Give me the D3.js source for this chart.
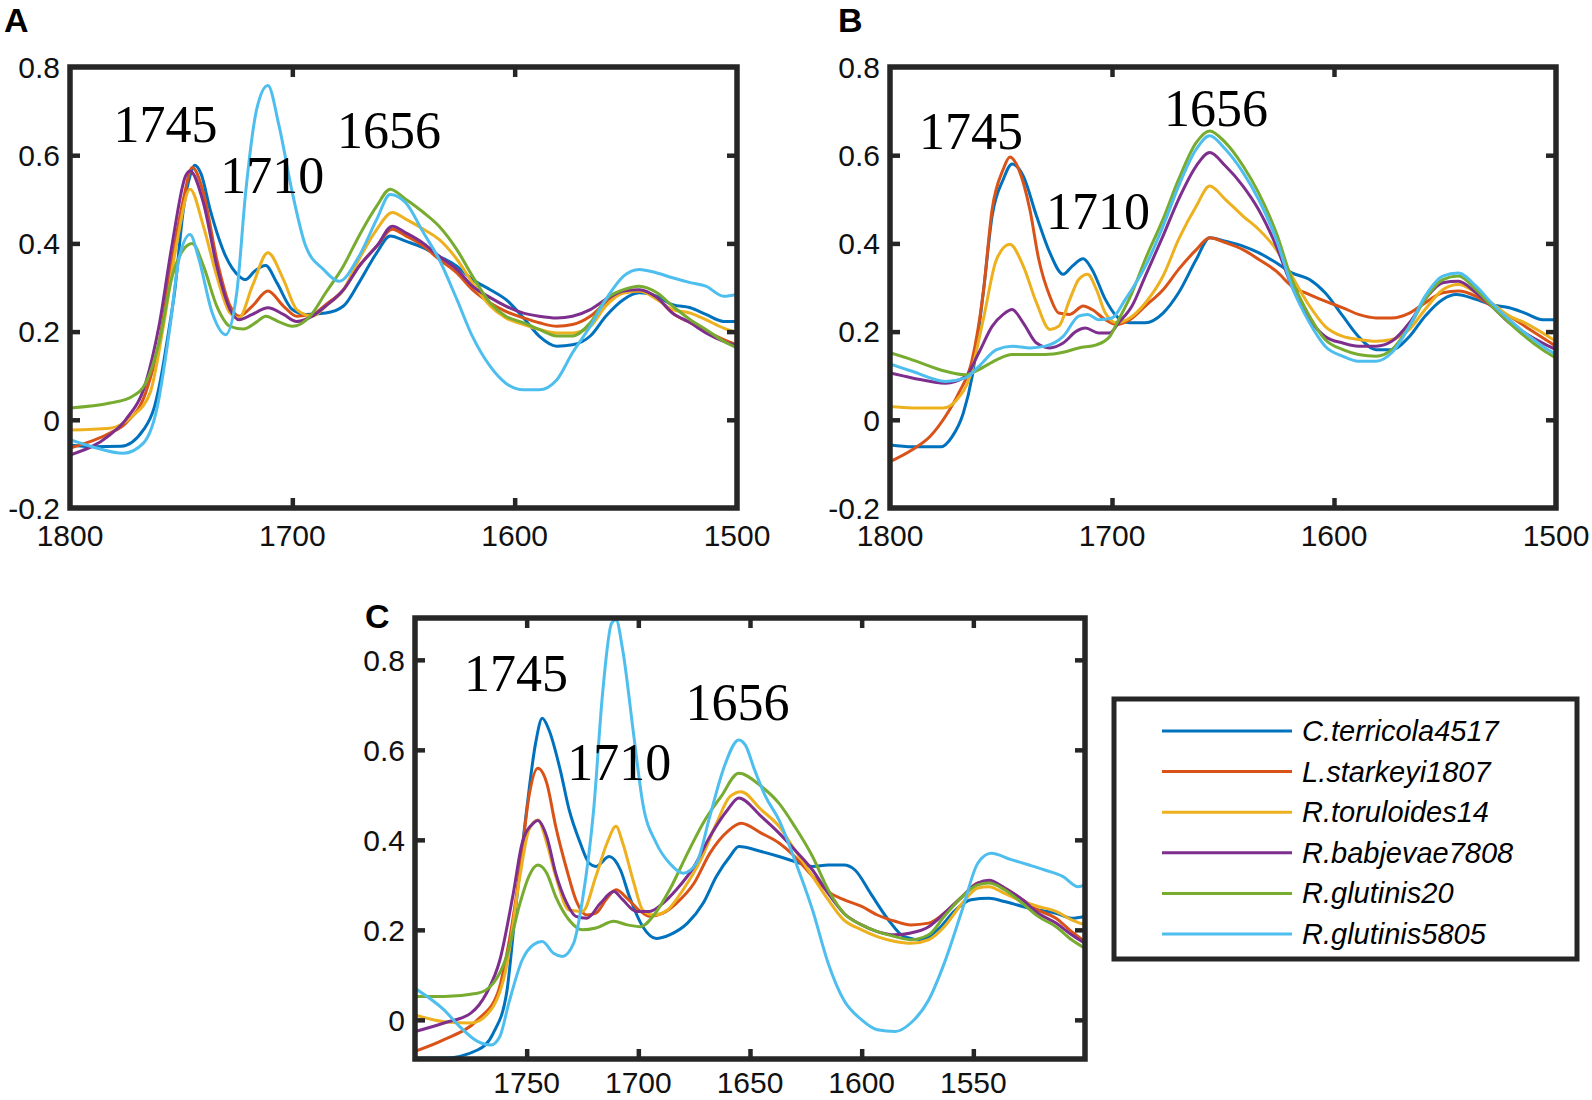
<!DOCTYPE html>
<html>
<head>
<meta charset="utf-8">
<script src="https://cdn.jsdelivr.net/npm/d3@7"></script>
<style>
  html, body { margin: 0; padding: 0; background: #fff; }
  svg { display: block; }
</style>
</head>
<body>
<div id="graphic"></div>
<script>
// ---- data (wavenumber, absorbance) ----
const seriesNames = ["C.terricola4517", "L.starkeyi1807", "R.toruloides14", "R.babjevae7808", "R.glutinis20", "R.glutinis5805"];
const seriesColors = ["#0072BD", "#D95319", "#EDB120", "#7E2F8E", "#77AC30", "#4DBEEE"];

// panel A
const terricolaA = [[1800,-0.057],[1790,-0.061],[1777,-0.06],[1767,-0.023],[1762,0.03],[1759,0.098],[1756,0.189],[1753,0.288],[1749,0.477],[1746,0.553],[1744,0.577],[1741,0.557],[1737,0.477],[1730,0.371],[1724,0.326],[1721,0.318],[1717,0.337],[1712,0.35],[1707,0.311],[1700,0.25],[1694,0.239],[1685,0.242],[1677,0.258],[1670,0.311],[1662,0.379],[1656,0.417],[1649,0.405],[1641,0.39],[1634,0.371],[1626,0.348],[1619,0.318],[1611,0.295],[1604,0.273],[1596,0.231],[1589,0.19],[1581,0.167],[1574,0.17],[1566,0.19],[1559,0.235],[1551,0.273],[1544,0.288],[1536,0.28],[1529,0.261],[1521,0.254],[1514,0.239],[1506,0.223],[1500,0.223]];
const starkeyiA = [[1800,-0.064],[1782,-0.03],[1775,-0.008],[1766,0.061],[1760,0.174],[1754,0.364],[1749,0.5],[1745,0.572],[1740,0.515],[1734,0.364],[1728,0.258],[1724,0.235],[1718,0.258],[1711,0.292],[1704,0.258],[1698,0.235],[1691,0.239],[1685,0.261],[1677,0.295],[1670,0.348],[1662,0.394],[1655,0.432],[1649,0.417],[1641,0.394],[1634,0.364],[1626,0.333],[1619,0.295],[1611,0.265],[1604,0.246],[1596,0.231],[1589,0.22],[1581,0.212],[1574,0.216],[1566,0.235],[1559,0.265],[1551,0.288],[1544,0.292],[1536,0.277],[1529,0.242],[1521,0.22],[1514,0.201],[1506,0.182],[1500,0.17]];
const toruloidesA = [[1800,-0.023],[1782,-0.019],[1772,0.008],[1764,0.061],[1758,0.212],[1752,0.4],[1746,0.523],[1740,0.439],[1734,0.326],[1728,0.242],[1724,0.231],[1718,0.303],[1711,0.379],[1704,0.318],[1698,0.25],[1691,0.235],[1685,0.258],[1677,0.295],[1670,0.364],[1662,0.432],[1655,0.47],[1649,0.455],[1641,0.432],[1634,0.409],[1626,0.364],[1619,0.311],[1611,0.258],[1604,0.231],[1596,0.216],[1589,0.205],[1581,0.197],[1574,0.197],[1566,0.212],[1559,0.258],[1551,0.288],[1544,0.292],[1536,0.273],[1529,0.25],[1521,0.242],[1514,0.227],[1506,0.208],[1500,0.198]];
const babjevaeA = [[1800,-0.08],[1782,-0.034],[1775,0],[1766,0.083],[1760,0.212],[1754,0.4],[1748,0.553],[1746,0.564],[1740,0.492],[1734,0.349],[1728,0.25],[1724,0.227],[1718,0.239],[1711,0.254],[1704,0.239],[1698,0.223],[1691,0.235],[1685,0.258],[1677,0.295],[1670,0.348],[1662,0.394],[1655,0.439],[1649,0.424],[1641,0.4],[1634,0.371],[1626,0.341],[1619,0.303],[1611,0.277],[1604,0.258],[1596,0.242],[1589,0.235],[1581,0.231],[1574,0.235],[1566,0.25],[1559,0.273],[1551,0.292],[1544,0.295],[1536,0.277],[1529,0.242],[1521,0.22],[1514,0.197],[1506,0.178],[1500,0.168]];
const glutinis20A = [[1800,0.027],[1782,0.038],[1772,0.053],[1766,0.083],[1760,0.174],[1754,0.326],[1749,0.386],[1745,0.4],[1740,0.349],[1734,0.258],[1728,0.212],[1722,0.206],[1716,0.222],[1712,0.235],[1706,0.222],[1700,0.212],[1692,0.235],[1685,0.288],[1677,0.349],[1670,0.417],[1662,0.485],[1656,0.523],[1649,0.5],[1641,0.47],[1634,0.439],[1626,0.386],[1619,0.326],[1611,0.265],[1604,0.235],[1596,0.22],[1589,0.205],[1581,0.19],[1574,0.19],[1566,0.22],[1559,0.273],[1551,0.295],[1544,0.303],[1536,0.288],[1529,0.258],[1521,0.227],[1514,0.205],[1506,0.178],[1500,0.163]];
const glutinis5805A = [[1800,-0.045],[1790,-0.061],[1776,-0.076],[1767,-0.053],[1761,0.023],[1755,0.212],[1751,0.364],[1746,0.42],[1742,0.364],[1736,0.242],[1730,0.193],[1725,0.288],[1721,0.515],[1716,0.705],[1711,0.758],[1706,0.667],[1700,0.515],[1694,0.394],[1686,0.341],[1679,0.314],[1670,0.371],[1662,0.455],[1656,0.511],[1649,0.492],[1641,0.424],[1634,0.364],[1626,0.273],[1619,0.189],[1611,0.121],[1604,0.083],[1596,0.068],[1589,0.068],[1581,0.091],[1574,0.152],[1566,0.212],[1559,0.273],[1551,0.326],[1544,0.341],[1536,0.333],[1529,0.322],[1521,0.311],[1514,0.303],[1506,0.28],[1500,0.284]];

// panel B
const terricolaB = [[1800,-0.057],[1790,-0.061],[1777,-0.061],[1772,-0.038],[1767,0.015],[1763,0.098],[1758,0.288],[1754,0.462],[1749,0.545],[1745,0.58],[1740,0.553],[1734,0.462],[1728,0.379],[1722,0.33],[1718,0.348],[1713,0.365],[1709,0.341],[1703,0.273],[1698,0.235],[1692,0.22],[1685,0.22],[1677,0.242],[1670,0.288],[1662,0.364],[1656,0.413],[1649,0.405],[1641,0.394],[1634,0.379],[1626,0.356],[1619,0.333],[1611,0.318],[1604,0.288],[1596,0.235],[1589,0.189],[1581,0.159],[1574,0.159],[1566,0.189],[1559,0.235],[1551,0.273],[1545,0.284],[1536,0.273],[1529,0.261],[1521,0.254],[1514,0.242],[1506,0.227],[1500,0.227]];
const starkeyiB = [[1800,-0.095],[1790,-0.068],[1782,-0.038],[1775,0.008],[1769,0.061],[1763,0.136],[1758,0.288],[1754,0.477],[1749,0.568],[1746,0.596],[1742,0.568],[1737,0.477],[1733,0.364],[1728,0.28],[1724,0.242],[1719,0.239],[1713,0.258],[1709,0.25],[1703,0.227],[1698,0.216],[1692,0.227],[1685,0.258],[1677,0.295],[1670,0.341],[1662,0.386],[1656,0.413],[1649,0.402],[1641,0.386],[1634,0.364],[1626,0.337],[1619,0.303],[1611,0.284],[1604,0.269],[1596,0.254],[1589,0.239],[1581,0.231],[1574,0.231],[1566,0.242],[1559,0.265],[1551,0.288],[1544,0.292],[1536,0.28],[1529,0.258],[1521,0.235],[1514,0.212],[1506,0.186],[1500,0.167]];
const toruloidesB = [[1800,0.03],[1790,0.027],[1776,0.027],[1770,0.045],[1764,0.098],[1758,0.227],[1752,0.364],[1746,0.398],[1740,0.349],[1734,0.265],[1728,0.205],[1724,0.212],[1719,0.273],[1715,0.318],[1711,0.33],[1707,0.295],[1703,0.242],[1698,0.22],[1692,0.231],[1685,0.265],[1677,0.326],[1670,0.409],[1662,0.485],[1656,0.53],[1649,0.5],[1641,0.462],[1634,0.432],[1626,0.386],[1619,0.326],[1611,0.258],[1604,0.212],[1596,0.189],[1589,0.182],[1581,0.178],[1574,0.182],[1566,0.205],[1559,0.25],[1551,0.295],[1544,0.307],[1536,0.288],[1529,0.265],[1521,0.235],[1514,0.22],[1506,0.197],[1500,0.178]];
const babjevaeB = [[1800,0.106],[1790,0.095],[1775,0.083],[1766,0.098],[1760,0.152],[1754,0.212],[1749,0.239],[1745,0.25],[1740,0.22],[1734,0.174],[1728,0.163],[1722,0.174],[1716,0.201],[1712,0.208],[1706,0.197],[1701,0.197],[1697,0.22],[1691,0.258],[1685,0.326],[1677,0.417],[1670,0.5],[1662,0.576],[1656,0.606],[1649,0.576],[1641,0.53],[1634,0.477],[1626,0.394],[1619,0.303],[1611,0.227],[1604,0.189],[1596,0.174],[1589,0.167],[1581,0.167],[1574,0.178],[1566,0.22],[1559,0.273],[1551,0.311],[1544,0.314],[1536,0.288],[1529,0.258],[1521,0.22],[1514,0.197],[1506,0.174],[1500,0.159]];
const glutinis20B = [[1800,0.152],[1790,0.136],[1775,0.11],[1766,0.102],[1760,0.114],[1752,0.136],[1745,0.148],[1737,0.148],[1730,0.148],[1722,0.153],[1715,0.163],[1707,0.17],[1701,0.189],[1697,0.227],[1691,0.288],[1685,0.364],[1677,0.455],[1670,0.545],[1662,0.629],[1656,0.655],[1649,0.629],[1641,0.576],[1634,0.515],[1626,0.424],[1619,0.318],[1611,0.235],[1604,0.182],[1596,0.159],[1589,0.148],[1581,0.144],[1574,0.159],[1566,0.212],[1559,0.273],[1551,0.318],[1544,0.326],[1536,0.295],[1529,0.258],[1521,0.22],[1514,0.189],[1506,0.159],[1500,0.14]];
const glutinis5805B = [[1800,0.127],[1790,0.11],[1775,0.087],[1766,0.095],[1760,0.121],[1752,0.159],[1745,0.167],[1737,0.163],[1730,0.167],[1722,0.189],[1715,0.235],[1711,0.239],[1706,0.227],[1700,0.231],[1694,0.273],[1685,0.348],[1677,0.439],[1670,0.53],[1662,0.614],[1656,0.644],[1649,0.614],[1641,0.561],[1634,0.5],[1626,0.409],[1619,0.303],[1611,0.22],[1604,0.167],[1596,0.144],[1589,0.133],[1581,0.133],[1574,0.152],[1566,0.212],[1559,0.28],[1551,0.326],[1544,0.333],[1536,0.303],[1529,0.265],[1521,0.227],[1514,0.197],[1506,0.167],[1500,0.148]];

// panel C
const terricolaC = [[1800,-0.085],[1787,-0.085],[1772,-0.067],[1765,-0.03],[1759,0.059],[1755,0.244],[1750,0.467],[1746,0.615],[1743,0.67],[1740,0.644],[1735,0.556],[1731,0.467],[1726,0.393],[1722,0.348],[1719,0.341],[1713,0.363],[1708,0.333],[1704,0.274],[1698,0.207],[1692,0.181],[1686,0.189],[1678,0.215],[1671,0.259],[1665,0.319],[1659,0.363],[1655,0.385],[1645,0.374],[1637,0.363],[1630,0.352],[1622,0.341],[1615,0.344],[1608,0.344],[1603,0.333],[1596,0.281],[1588,0.222],[1581,0.185],[1573,0.178],[1566,0.2],[1558,0.244],[1551,0.267],[1543,0.27],[1536,0.263],[1528,0.252],[1521,0.244],[1513,0.237],[1506,0.226],[1500,0.23]];
const starkeyiC = [[1800,-0.07],[1787,-0.044],[1772,0],[1763,0.059],[1758,0.17],[1753,0.333],[1749,0.496],[1745,0.559],[1741,0.526],[1737,0.43],[1732,0.333],[1728,0.267],[1723,0.233],[1719,0.237],[1714,0.27],[1710,0.289],[1705,0.27],[1699,0.241],[1695,0.23],[1689,0.237],[1683,0.259],[1675,0.304],[1668,0.37],[1660,0.419],[1654,0.437],[1645,0.415],[1637,0.393],[1630,0.363],[1622,0.319],[1615,0.285],[1608,0.267],[1600,0.252],[1593,0.233],[1585,0.219],[1578,0.211],[1570,0.215],[1563,0.237],[1555,0.274],[1548,0.304],[1543,0.307],[1536,0.293],[1528,0.267],[1521,0.244],[1513,0.226],[1506,0.196],[1500,0.174]];
const toruloidesC = [[1800,0.011],[1787,-0.004],[1775,-0.007],[1766,0.022],[1759,0.119],[1753,0.319],[1749,0.422],[1745,0.444],[1741,0.393],[1737,0.319],[1731,0.244],[1725,0.241],[1719,0.319],[1714,0.393],[1710,0.43],[1707,0.393],[1702,0.304],[1698,0.244],[1693,0.233],[1687,0.244],[1680,0.289],[1672,0.356],[1665,0.437],[1659,0.496],[1654,0.507],[1645,0.467],[1637,0.43],[1630,0.378],[1622,0.319],[1615,0.267],[1608,0.222],[1600,0.2],[1593,0.185],[1585,0.174],[1578,0.17],[1570,0.178],[1563,0.207],[1555,0.259],[1548,0.293],[1543,0.296],[1536,0.281],[1528,0.263],[1521,0.252],[1513,0.241],[1506,0.222],[1500,0.211]];
const babjevaeC = [[1800,-0.026],[1787,-0.007],[1775,0.015],[1768,0.059],[1762,0.133],[1756,0.281],[1752,0.393],[1747,0.437],[1745,0.443],[1741,0.407],[1737,0.326],[1732,0.259],[1728,0.23],[1723,0.226],[1717,0.259],[1711,0.285],[1707,0.267],[1701,0.241],[1695,0.241],[1689,0.259],[1683,0.289],[1675,0.341],[1668,0.407],[1660,0.467],[1655,0.493],[1645,0.452],[1637,0.415],[1630,0.378],[1622,0.333],[1615,0.281],[1608,0.237],[1600,0.211],[1593,0.196],[1585,0.189],[1578,0.193],[1570,0.207],[1563,0.237],[1555,0.274],[1548,0.304],[1543,0.31],[1536,0.293],[1528,0.267],[1521,0.237],[1513,0.215],[1506,0.189],[1500,0.17]];
const glutinis20C = [[1800,0.052],[1787,0.052],[1772,0.059],[1765,0.081],[1759,0.141],[1753,0.259],[1749,0.319],[1745,0.344],[1741,0.326],[1737,0.274],[1731,0.222],[1725,0.2],[1719,0.204],[1711,0.219],[1705,0.211],[1699,0.207],[1693,0.233],[1686,0.289],[1678,0.37],[1671,0.437],[1663,0.496],[1655,0.548],[1645,0.519],[1637,0.481],[1630,0.43],[1622,0.363],[1615,0.289],[1608,0.237],[1600,0.211],[1593,0.196],[1585,0.185],[1578,0.178],[1570,0.189],[1563,0.23],[1555,0.274],[1548,0.3],[1543,0.304],[1536,0.289],[1528,0.259],[1521,0.23],[1513,0.207],[1506,0.178],[1500,0.159]];
const glutinis5805C = [[1800,0.07],[1787,0.022],[1780,-0.015],[1772,-0.048],[1766,-0.056],[1762,-0.037],[1758,0.037],[1752,0.133],[1747,0.167],[1743,0.174],[1738,0.148],[1734,0.141],[1729,0.17],[1725,0.267],[1720,0.467],[1716,0.726],[1712,0.881],[1710,0.889],[1707,0.822],[1702,0.63],[1698,0.481],[1692,0.393],[1686,0.348],[1680,0.326],[1674,0.348],[1668,0.452],[1662,0.556],[1655,0.622],[1652,0.61],[1648,0.556],[1643,0.496],[1637,0.444],[1630,0.356],[1622,0.244],[1615,0.126],[1608,0.044],[1600,0],[1593,-0.022],[1585,-0.026],[1578,-0.007],[1570,0.044],[1563,0.126],[1555,0.244],[1548,0.348],[1542,0.37],[1533,0.356],[1525,0.344],[1518,0.333],[1510,0.319],[1503,0.296],[1500,0.3]];

// peak annotations: [text, wavenumber, absorbance at baseline]
const peakLabelsA = [["1745", 1757, 0.63], ["1710", 1709, 0.515], ["1656", 1656.5, 0.616]];
const peakLabelsB = [["1745", 1763.5, 0.614], ["1710", 1706.3, 0.432], ["1656", 1653.2, 0.667]];
const peakLabelsC = [["1745", 1754.8, 0.73], ["1710", 1708.6, 0.533], ["1656", 1655.6, 0.667]];

const xTicksAB = [1800, 1700, 1600, 1500];
const yTicksAB = [-0.2, 0, 0.2, 0.4, 0.6, 0.8];
const xTicksC = [1750, 1700, 1650, 1600, 1550];
const yTicksC = [0, 0.2, 0.4, 0.6, 0.8];

// ---- layout ----
const W = 1592, H = 1100;
const frameColor = "#262626";
const tickFont = "'Liberation Sans', Arial, sans-serif";

const panels = [
  { letter: "A", lx: 4, ly: 32, box: [70, 67, 737, 508], xDomain: [1800, 1500], yDomain: [-0.2, 0.8],
    xTicks: xTicksAB, yTicks: yTicksAB, xLabelOff: 38,
    series: [terricolaA, starkeyiA, toruloidesA, babjevaeA, glutinis20A, glutinis5805A], peaks: peakLabelsA },
  { letter: "B", lx: 838, ly: 32, box: [890, 67, 1556, 508], xDomain: [1800, 1500], yDomain: [-0.2, 0.8],
    xTicks: xTicksAB, yTicks: yTicksAB, xLabelOff: 38,
    series: [terricolaB, starkeyiB, toruloidesB, babjevaeB, glutinis20B, glutinis5805B], peaks: peakLabelsB },
  { letter: "C", lx: 365, ly: 628, box: [415, 618, 1085, 1059], xDomain: [1800, 1500], yDomain: [-0.087, 0.893],
    xTicks: xTicksC, yTicks: yTicksC, xLabelOff: 34,
    series: [terricolaC, starkeyiC, toruloidesC, babjevaeC, glutinis20C, glutinis5805C], peaks: peakLabelsC }
];

const svg = d3.select("#graphic").append("svg")
  .attr("width", W)
  .attr("height", H)
  .attr("viewBox", [0, 0, W, H]);

svg.append("rect").attr("width", W).attr("height", H).attr("fill", "#fff");

panels.forEach((p, i) => {
  const [x0, y0, x1, y1] = p.box;
  const x = d3.scaleLinear().domain(p.xDomain).range([x0, x1]);
  const y = d3.scaleLinear().domain(p.yDomain).range([y1, y0]);
  const g = svg.append("g");

  const clipId = "clip" + i;
  svg.append("clipPath").attr("id", clipId)
    .append("rect").attr("x", x0).attr("y", y0).attr("width", x1 - x0).attr("height", y1 - y0);

  // curves
  const line = d3.line()
    .x(d => x(d[0]))
    .y(d => y(d[1]))
    .curve(d3.curveMonotoneX);

  g.append("g")
    .attr("clip-path", `url(#${clipId})`)
    .selectAll("path")
    .data(p.series)
    .join("path")
    .attr("fill", "none")
    .attr("stroke", (d, k) => seriesColors[k])
    .attr("stroke-width", 3)
    .attr("stroke-linejoin", "round")
    .attr("d", line);

  // axes: ticks pointing inward on all four sides
  const tickLen = 10;
  const innerX = p.xTicks.filter(t => t !== p.xDomain[0] && t !== p.xDomain[1]);
  const innerY = p.yTicks.filter(t => Math.abs(y(t) - y0) > 3 && Math.abs(y(t) - y1) > 3);

  g.append("g").attr("transform", `translate(0,${y1})`)
    .call(d3.axisTop(x).tickValues(innerX).tickSize(tickLen).tickFormat(""))
    .call(a => a.select(".domain").remove());
  g.append("g").attr("transform", `translate(0,${y0})`)
    .call(d3.axisBottom(x).tickValues(innerX).tickSize(tickLen).tickFormat(""))
    .call(a => a.select(".domain").remove());
  g.append("g").attr("transform", `translate(${x0},0)`)
    .call(d3.axisRight(y).tickValues(innerY).tickSize(tickLen).tickFormat(""))
    .call(a => a.select(".domain").remove());
  g.append("g").attr("transform", `translate(${x1},0)`)
    .call(d3.axisLeft(y).tickValues(innerY).tickSize(tickLen).tickFormat(""))
    .call(a => a.select(".domain").remove());
  g.selectAll(".tick line").attr("stroke", frameColor).attr("stroke-width", 4.5);

  // frame
  g.append("rect")
    .attr("x", x0).attr("y", y0)
    .attr("width", x1 - x0).attr("height", y1 - y0)
    .attr("fill", "none")
    .attr("stroke", frameColor)
    .attr("stroke-width", 5.5);

  // tick labels
  g.append("g").selectAll("text")
    .data(p.xTicks)
    .join("text")
    .attr("x", d => x(d))
    .attr("y", y1 + p.xLabelOff)
    .attr("text-anchor", "middle")
    .style("font-family", tickFont)
    .style("font-size", "30px")
    .attr("fill", "#111")
    .text(d => String(d));

  g.append("g").selectAll("text")
    .data(p.yTicks)
    .join("text")
    .attr("x", x0 - 10)
    .attr("y", d => y(d))
    .attr("dy", "0.36em")
    .attr("text-anchor", "end")
    .style("font-family", tickFont)
    .style("font-size", "30px")
    .attr("fill", "#111")
    .text(d => String(d));

  // peak annotations
  g.append("g").selectAll("text")
    .data(p.peaks)
    .join("text")
    .attr("x", d => x(d[1]))
    .attr("y", d => y(d[2]))
    .attr("text-anchor", "middle")
    .style("font-family", "'Liberation Serif', 'Times New Roman', serif")
    .style("font-size", "52px")
    .attr("fill", "#000")
    .text(d => d[0]);

  // panel letter
  g.append("text")
    .attr("x", p.lx).attr("y", p.ly)
    .style("font-family", tickFont)
    .style("font-weight", "bold")
    .style("font-size", "34px")
    .attr("fill", "#000")
    .text(p.letter);
});

// legend
const legend = svg.append("g");
legend.append("rect")
  .attr("x", 1114).attr("y", 699)
  .attr("width", 463).attr("height", 260)
  .attr("fill", "#fff")
  .attr("stroke", frameColor)
  .attr("stroke-width", 5);

const rowY = d3.scalePoint().domain(seriesNames).range([731, 934]);

const item = legend.selectAll("g.item")
  .data(seriesNames)
  .join("g")
  .attr("class", "item")
  .attr("transform", d => `translate(0,${rowY(d)})`);

item.append("line")
  .attr("x1", 1162).attr("x2", 1292)
  .attr("stroke", (d, k) => seriesColors[k])
  .attr("stroke-width", 3);

item.append("text")
  .attr("x", 1302)
  .attr("y", 10)
  .style("font-family", tickFont)
  .style("font-style", "italic")
  .style("font-size", "29px")
  .attr("fill", "#000")
  .text(d => d);
</script>
</body>
</html>
